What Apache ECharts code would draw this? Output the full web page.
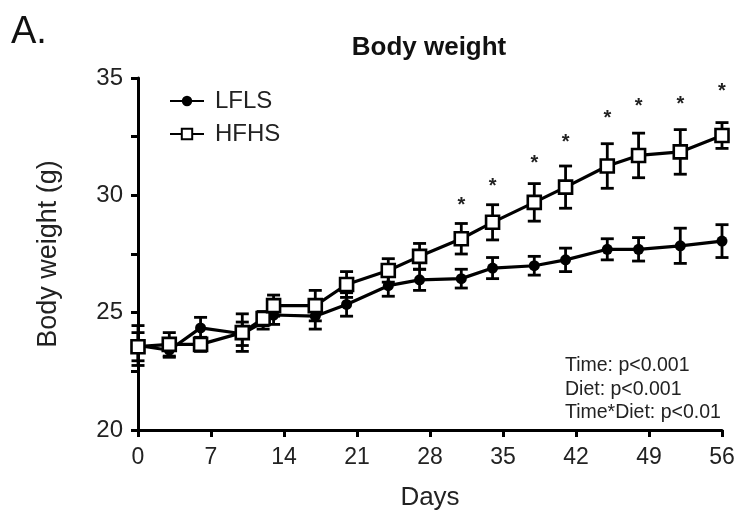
<!DOCTYPE html>
<html>
<head>
<meta charset="utf-8">
<script src="https://cdn.jsdelivr.net/npm/echarts@6/dist/echarts.min.js"></script>
<style>html,body{margin:0;padding:0;background:#fff}#c{width:738px;height:510px}</style>
</head>
<body>
<div id="c"></div>
<script>
const days = [0, 3, 6, 10, 12, 13, 17, 20, 24, 27, 31, 34, 38, 41, 45, 48, 52, 56];
const lfls = [23.6, 23.4, 24.35, 24.1, 24.6, 24.9, 24.85, 25.35, 26.15, 26.4, 26.45, 26.9, 27.0, 27.25, 27.7, 27.7, 27.85, 28.05];
const lflsErr = [0.85, 0.3, 0.45, 0.5, 0.3, 0.4, 0.55, 0.5, 0.45, 0.45, 0.4, 0.45, 0.4, 0.5, 0.45, 0.5, 0.75, 0.7];
const hfhs = [23.55, 23.65, 23.65, 24.15, 24.75, 25.3, 25.3, 26.2, 26.8, 27.4, 28.15, 28.85, 29.7, 30.35, 31.25, 31.7, 31.85, 32.55];
const hfhsErr = [0.6, 0.5, 0.3, 0.8, 0.3, 0.45, 0.65, 0.55, 0.5, 0.55, 0.65, 0.75, 0.8, 0.9, 0.95, 0.95, 0.95, 0.55];
const starDays = [31, 34, 38, 41, 45, 48, 52, 56];
const starVals = [29.8, 30.6, 31.55, 32.45, 33.5, 34.0, 34.1, 34.65];
const xTicks = [0, 7, 14, 21, 28, 35, 42, 49, 56];
const yTicks = [20, 25, 30, 35];
const statLines = ['Time: p<0.001', 'Diet: p<0.001', 'Time*Diet: p<0.01'];

const FONT = "'Liberation Sans', Arial, Helvetica, sans-serif";
const TXT = '#222';
const chart = echarts.init(document.getElementById('c'));

function errSeries(vals, errs, z) {
  return {
    type: 'custom',
    z: z,
    silent: true,
    data: days.map((d, i) => [d, vals[i] - errs[i], vals[i] + errs[i]]),
    renderItem: function (params, api) {
      const lo = api.coord([api.value(0), api.value(1)]);
      const hi = api.coord([api.value(0), api.value(2)]);
      const w = 6.5;
      const st = { stroke: '#000', lineWidth: 2.8 };
      return {
        type: 'group',
        children: [
          { type: 'line', shape: { x1: lo[0], y1: lo[1], x2: hi[0], y2: hi[1] }, style: st },
          { type: 'line', shape: { x1: lo[0] - w, y1: lo[1], x2: lo[0] + w, y2: lo[1] }, style: st },
          { type: 'line', shape: { x1: hi[0] - w, y1: hi[1], x2: hi[0] + w, y2: hi[1] }, style: st }
        ]
      };
    }
  };
}

chart.setOption({
  animation: false,
  backgroundColor: '#fff',
  title: {
    text: 'Body weight',
    left: 424, top: 30, textAlign: 'center',
    textStyle: { fontFamily: FONT, fontSize: 26, fontWeight: 'bold', color: '#111' }
  },
  graphic: [
    { type: 'text', left: 11, top: 14, style: { text: 'A.', font: '38px ' + FONT, fill: '#111' } },
    { type: 'text', left: 565, top: 354, style: { text: statLines.join('\n'), font: '19.5px ' + FONT, fill: TXT, lineHeight: 23.5 } }
  ],
  legend: {
    orient: 'vertical',
    left: 164, top: 84,
    itemWidth: 34, itemHeight: 13, itemGap: 9,
    textStyle: { fontFamily: FONT, fontSize: 24, color: TXT, padding: [0, 0, 0, 6] },
    data: ['LFLS', 'HFHS']
  },
  grid: { left: 138, right: 16, top: 78, bottom: 80, outerBoundsMode: 'none', containLabel: false },
  xAxis: {
    type: 'value', min: 0, max: 56, interval: 7,
    name: 'Days', nameLocation: 'middle', nameGap: 55,
    nameTextStyle: { fontFamily: FONT, fontSize: 26, color: TXT },
    axisLine: { lineStyle: { color: '#000', width: 3 } },
    axisTick: { show: true, length: 7, lineStyle: { color: '#000', width: 3 } },
    axisLabel: { fontFamily: FONT, fontSize: 23, color: TXT, margin: 16,
      customValues: xTicks },
    splitLine: { show: false }
  },
  yAxis: {
    type: 'value', min: 20, max: 35, interval: 5,
    name: 'Body weight (g)', nameLocation: 'middle', nameGap: 76,
    nameTextStyle: { fontFamily: FONT, fontSize: 27, color: TXT },
    axisLine: { show: true, lineStyle: { color: '#000', width: 3 } },
    axisTick: { show: true, length: 7, lineStyle: { color: '#000', width: 3 } },
    minorTick: { show: true, splitNumber: 2, length: 7, lineStyle: { color: '#000', width: 3 } },
    axisLabel: { fontFamily: FONT, fontSize: 24, color: TXT, margin: 15 },
    splitLine: { show: false }
  },
  series: [
    errSeries(lfls, lflsErr, 2),
    errSeries(hfhs, hfhsErr, 2),
    {
      name: 'LFLS', type: 'line', z: 3,
      data: days.map((d, i) => [d, lfls[i]]),
      symbol: 'circle', symbolSize: 11,
      lineStyle: { color: '#000', width: 3.2 },
      itemStyle: { color: '#000', borderColor: '#000', borderWidth: 0 }
    },
    {
      name: 'HFHS', type: 'line', z: 4,
      data: days.map((d, i) => [d, hfhs[i]]),
      symbol: 'rect', symbolSize: 13,
      lineStyle: { color: '#000', width: 3.2 },
      itemStyle: { color: '#fff', borderColor: '#000', borderWidth: 2.6 }
    },
    {
      type: 'custom', z: 5, silent: true,
      data: starDays.map((d, i) => [d, starVals[i]]),
      renderItem: function (params, api) {
        const p = api.coord([api.value(0), api.value(1)]);
        return {
          type: 'text', x: p[0], y: p[1] + 5,
          style: { text: '*', font: 'bold 20px ' + FONT, fill: '#222', align: 'center', verticalAlign: 'middle' }
        };
      }
    }
  ]
});
</script>
</body>
</html>
